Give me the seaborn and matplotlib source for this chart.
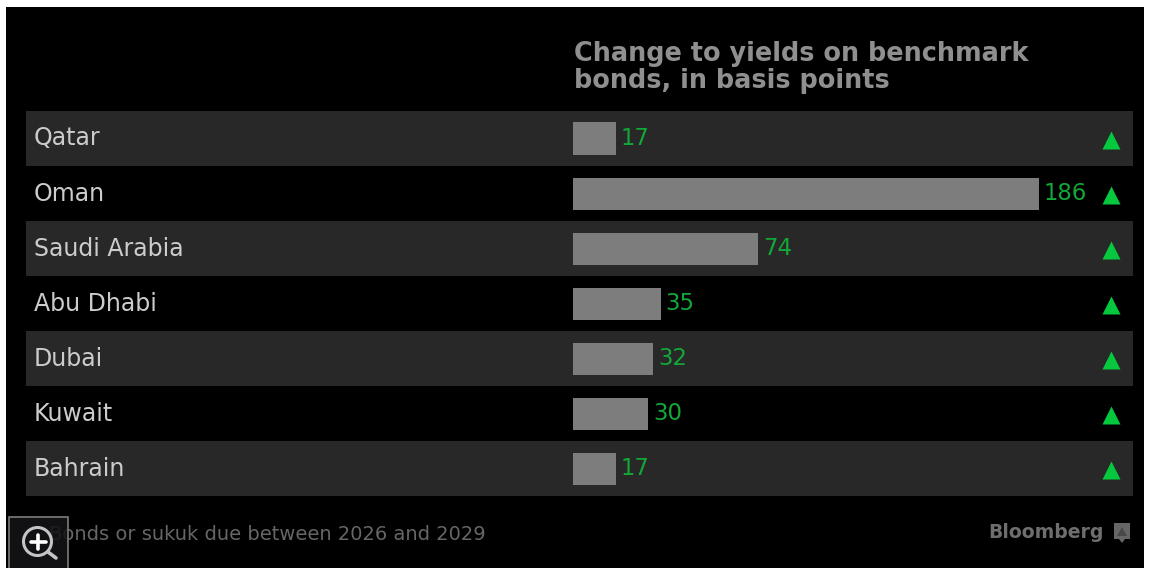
import matplotlib
matplotlib.use("Agg")
import matplotlib.pyplot as plt
from matplotlib.patches import Circle, Polygon, Rectangle
from matplotlib.transforms import Affine2D
import pandas as pd
import seaborn as sns

countries = ["Qatar", "Oman", "Saudi Arabia", "Abu Dhabi", "Dubai", "Kuwait", "Bahrain"]
changes = [17, 186, 74, 35, 32, 30, 17]
title_lines = ["Change to yields on benchmark", "bonds, in basis points"]
footnote = "Bonds or sukuk due between 2026 and 2029"
brand = "Bloomberg"

W, H = 1150, 568
X0, PX_PER_BP = 573, 2.505
ROW0, ROW_STEP = 138.5, 55.05

sns.set_theme(style="dark")
plt.rcParams["font.family"] = ["DejaVu Sans"]

fig = plt.figure(figsize=(W / 100, H / 100), dpi=100, facecolor="white")
ax = fig.add_axes([0, 0, 1, 1])

# Pixel coordinates measured from the top-left corner of the figure
px = Affine2D().scale(1, -1).translate(0, H)

ax.add_patch(Rectangle((6, 7), 1138, 561, transform=px, fc="black", ec="none", zorder=0))
for i in range(0, len(countries), 2):
    ax.add_patch(Rectangle((26, ROW0 - 27.5 + i * ROW_STEP), 1107, 55, transform=px,
                           fc="#282828", ec="none", zorder=1))

df = pd.DataFrame({"country": countries, "change": changes})
sns.barplot(data=df, x="change", y="country", orient="h", color="#7d7d7d",
            saturation=1, width=32 / 55, linewidth=0, edgecolor="none", ax=ax, zorder=2)
ax.set_xlim(-X0 / PX_PER_BP, (W - X0) / PX_PER_BP)
ax.set_ylim((H - ROW0) / ROW_STEP, -ROW0 / ROW_STEP)
ax.axis("off")

for i, (name, value) in enumerate(zip(countries, changes)):
    ax.text(33.5, ROW0 + i * ROW_STEP, name, transform=px, color="#cccccc", fontsize=17,
            va="center", ha="left", zorder=3)
    ax.annotate(str(value), (value, i), xytext=(5, 0), textcoords="offset pixels",
                color="#12a838", fontsize=16.4, va="center", ha="left", zorder=3)
    ax.plot([1110.5], [ROW0 + 1.5 + i * ROW_STEP], transform=px, marker="^", ms=12.5,
            color="#05c83e", mec="none", zorder=3)

for j, line in enumerate(title_lines):
    ax.text(574, 54 + j * 27, line, transform=px, color="#8f8f8f", fontsize=18.4,
            fontweight="bold", va="center", ha="left", zorder=3)

ax.text(486, 535, footnote, transform=px, color="#666666", fontsize=14,
        va="center", ha="right", zorder=3)
ax.text(988, 532, brand, transform=px, color="#6e6e6e", fontsize=13.6,
        fontweight="bold", va="center", ha="left", zorder=3)
ax.add_patch(Polygon([(1114, 523), (1130, 523), (1130, 539), (1125, 539), (1122, 543),
                      (1119, 539), (1114, 539)], transform=px, fc="#666666", ec="none", zorder=3))
ax.add_patch(Polygon([(1117, 536), (1122, 527), (1127, 536)], transform=px,
                     fc="#484848", ec="none", zorder=3))

# Zoom button in the lower-left corner, slightly see-through
ax.add_patch(Rectangle((8.5, 516.5), 59, 52, transform=px, fc=(0.08, 0.08, 0.09, 0.88),
                       ec="#7c7c7c", lw=1.2, zorder=4))
ax.add_patch(Circle((37.5, 541.5), 14, transform=px, fc="none", ec="#c4c4c4", lw=2.2, zorder=5))
ax.plot([48, 56], [552, 558], transform=px, color="#c4c4c4", lw=2.6, zorder=5)
ax.plot([30.5, 45.5], [541.5, 541.5], transform=px, color="white", lw=2.6, zorder=5)
ax.plot([38, 38], [534.5, 548.5], transform=px, color="white", lw=2.6, zorder=5)

fig.savefig("out.png", dpi=100)
